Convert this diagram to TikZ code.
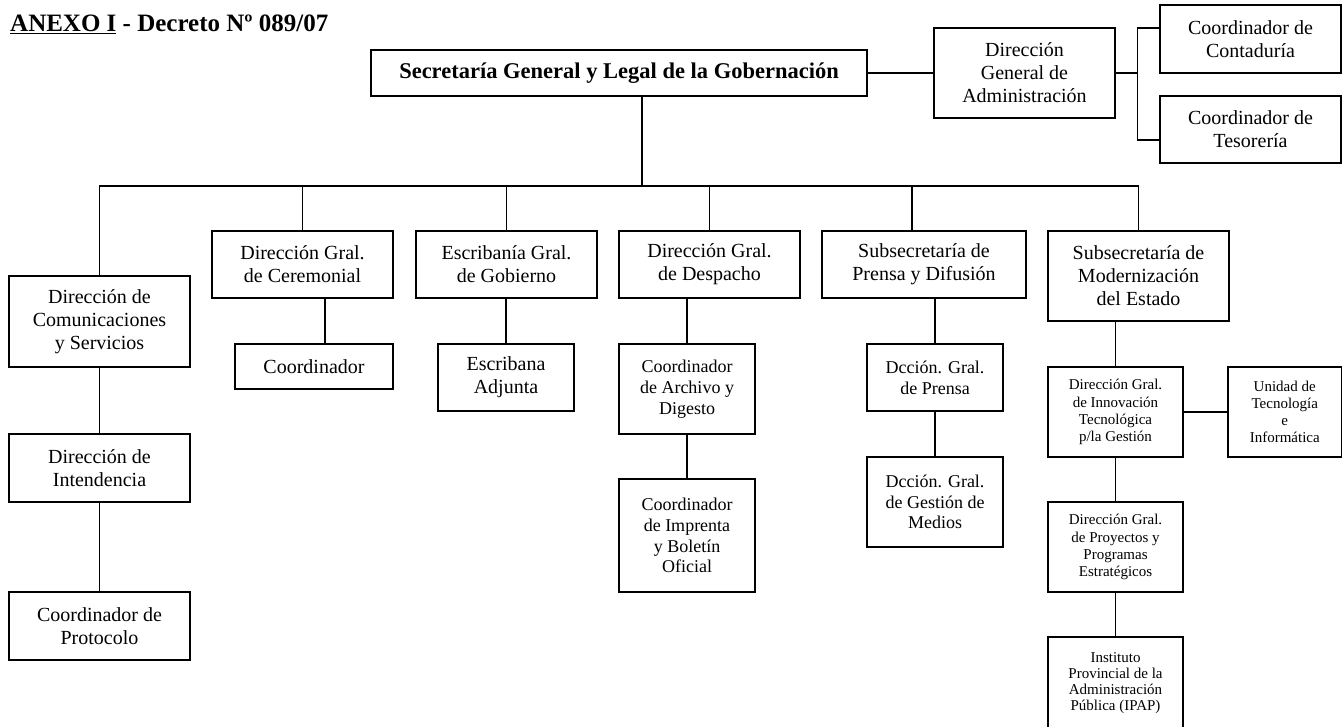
\documentclass[tikz,border=0pt]{standalone}
\usepackage{fontspec}
\setmainfont{Liberation Serif}
\begin{document}
\begin{tikzpicture}[x=1pt,y=-1pt,
  box/.style={draw, line width=1.9pt, inner sep=0pt, align=center, font=\fontsize{20}{23}\selectfont},
  mid/.style={font=\fontsize{18}{20.7}\selectfont},
  small/.style={font=\fontsize{15}{17.2}\selectfont},
  tiny/.style={font=\fontsize{15}{16.2}\selectfont},
  conn/.style={line width=1.9pt, line join=miter}]
\useasboundingbox (0,0) rectangle (1343,727);

% title
\node[anchor=base west, inner sep=0pt, font=\fontsize{25}{28}\selectfont\bfseries] (title) at (10,31.5) {\underline{ANEXO I} - Decreto Nº 089/07};

% top level
\node[box, font=\fontsize{22.5}{26}\selectfont\bfseries, minimum width=496, minimum height=46] (top) at (619,73) {Secretaría General y Legal de la Gobernación};
\node[box, minimum width=181, minimum height=90] (dga) at (1024.5,73) {Dirección\\General de\\Administración};
\node[box, minimum width=181, minimum height=68] (cont) at (1250.5,39) {Coordinador de\\Contaduría};
\node[box, minimum width=181, minimum height=67] (teso) at (1250.5,129.5) {Coordinador de\\Tesorería};

% second level
\node[box, minimum width=181, minimum height=91] (com) at (99.5,321.5) {Dirección de\\Comunicaciones\\y Servicios};
\node[box, minimum width=181, minimum height=67] (cer) at (302.5,264.5) {Dirección Gral.\\de Ceremonial};
\node[box, minimum width=181, minimum height=67] (esc) at (506.5,264.5) {Escribanía Gral.\\de Gobierno};
\node[box, minimum width=181, minimum height=67] (desp) at (709.5,264.5) {Dirección Gral.\\de Despacho};
\node[box, minimum width=204, minimum height=67] (pren) at (924,264.5) {Subsecretaría de\\Prensa y Difusión};
\node[box, minimum width=181, minimum height=90] (mod) at (1138.5,276) {Subsecretaría de\\Modernización\\del Estado};

% third level
\node[box, minimum width=158, minimum height=45] (coord) at (314,366.5) {Coordinador};
\node[box, minimum width=136, minimum height=67] (adj) at (506,377.5) {Escribana\\Adjunta};
\node[box, mid, minimum width=136, minimum height=90] (arch) at (687,389) {Coordinador\\de Archivo y\\Digesto};
\node[box, mid, minimum width=136, minimum height=113] (impr) at (687,535.5) {Coordinador\\de Imprenta\\y Boletín\\Oficial};
\node[box, mid, minimum width=136, minimum height=67] (dpren) at (935,377.5) {Dcción. Gral.\\de Prensa};
\node[box, mid, minimum width=136, minimum height=90] (dmed) at (935,502) {Dcción. Gral.\\de Gestión de\\Medios};
\node[box, small, minimum width=135, minimum height=90] (inno) at (1115.5,412) {Dirección Gral.\\de Innovación\\Tecnológica\\p/la Gestión};
\node[box, small, minimum width=113.5, minimum height=90] (unid) at (1284.75,412) {Unidad de\\Tecnología\\e\\Informática};
\node[box, small, minimum width=135, minimum height=90] (proy) at (1115.5,547) {Dirección Gral.\\de Proyectos y\\Programas\\Estratégicos};
\node[box, tiny, minimum width=135, minimum height=92] (ipap) at (1115.5,683) {Instituto\\Provincial de la\\Administración\\Pública (IPAP)};
\node[box, minimum width=181, minimum height=68] (int) at (99.5,468) {Dirección de\\Intendencia};
\node[box, minimum width=181, minimum height=68] (prot) at (99.5,626) {Coordinador de\\Protocolo};

% connectors: top
\draw[conn] (top.east) -- (dga.west);
\coordinate (bt) at (1137.5,28.3);
\coordinate (bb) at (1137.5,140);
\draw[conn] (dga.east) -- (dga.east -| bt);
\draw[conn] (cont.west |- bt) -- (bt) -- (bb) -- (teso.west |- bb);

% main bus
\coordinate (mv) at (642,185.7);
\draw[conn] (top.south -| mv) -- (mv);
\draw[conn] (com.north) -- (com.north |- mv) -- (mod.north |- mv) -- (mod.north);
\draw[conn] (cer.north |- mv) -- (cer.north);
\draw[conn] (esc.north |- mv) -- (esc.north);
\draw[conn] (desp.north |- mv) -- (desp.north);
\coordinate (pd) at (912.3,185.7);
\draw[conn] (pd) -- (pren.north -| pd);

% vertical chains
\coordinate (cc) at (325.3,300);
\draw[conn] (cer.south -| cc) -- (coord.north -| cc);
\draw[conn] (esc.south -| adj.north) -- (adj.north);
\draw[conn] (desp.south -| arch.north) -- (arch.north);
\draw[conn] (arch.south) -- (impr.north);
\draw[conn] (pren.south -| dpren.north) -- (dpren.north);
\draw[conn] (dpren.south) -- (dmed.north);
\draw[conn] (mod.south -| inno.north) -- (inno.north);
\draw[conn] (inno.east) -- (unid.west);
\draw[conn] (inno.south) -- (proy.north);
\draw[conn] (proy.south) -- (ipap.north);
\draw[conn] (com.south) -- (int.north);
\draw[conn] (int.south) -- (prot.north);
\end{tikzpicture}
\end{document}
